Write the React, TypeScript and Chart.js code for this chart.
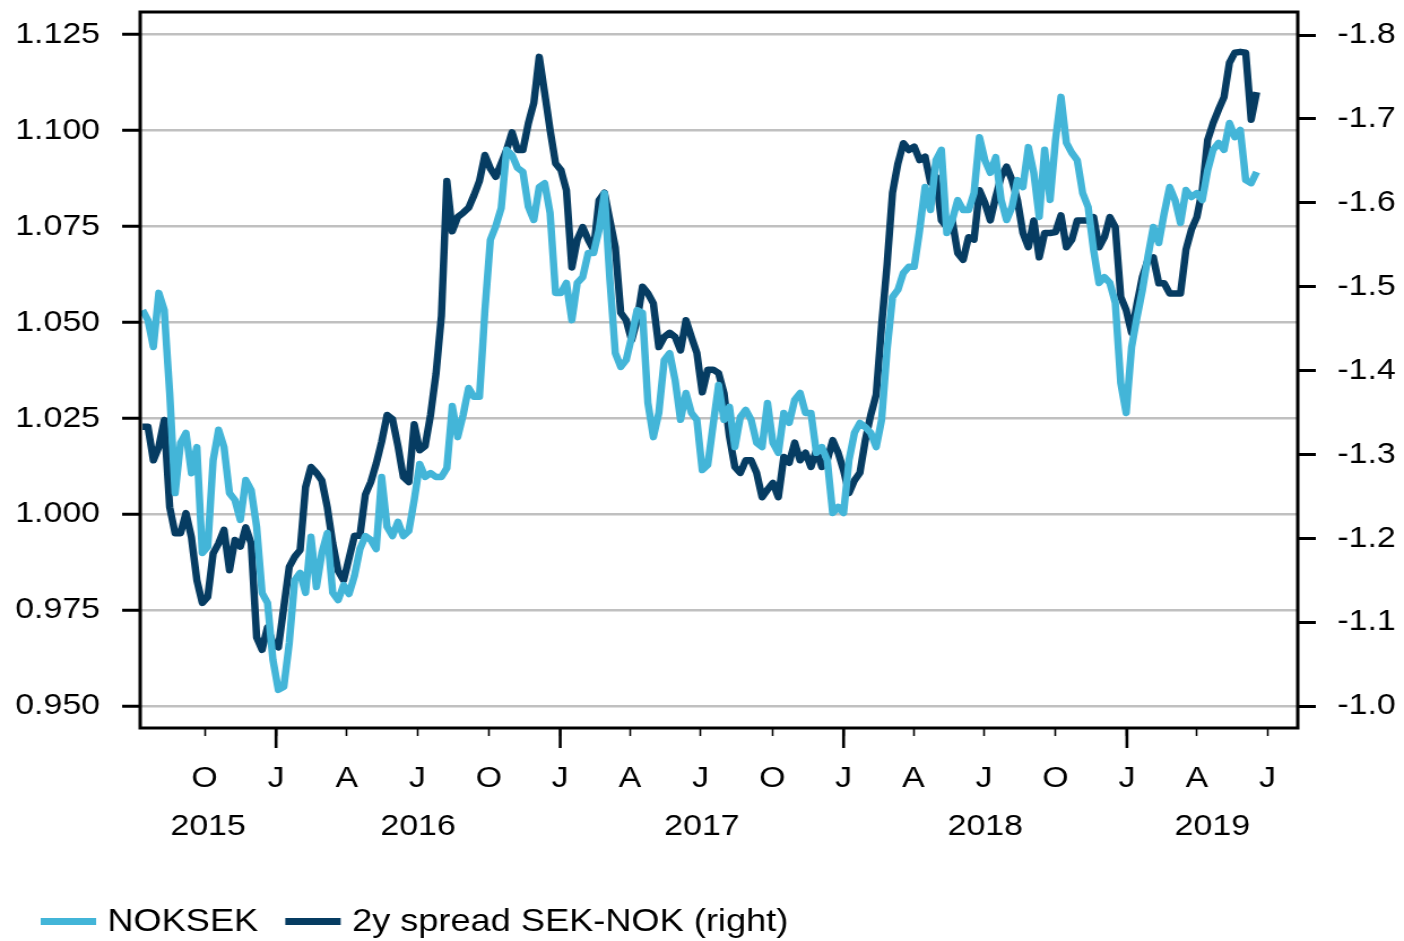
import React, { useEffect, useRef } from 'react';
import { Chart, registerables } from 'chart.js';

Chart.register(...registerables);

// ---------- data ----------
const START_DATE = '2015-07-13'; // first weekly observation
const X_MIN_DATE = '2015-07-10';
const X_MAX_DATE = '2019-08-09';

const NOKSEK = [
  1.0532, 1.0506, 1.0436, 1.0577, 1.0532, 1.0316, 1.0055, 1.0186, 1.0212, 1.0107,
  1.0175, 0.9899, 0.9915, 1.0141, 1.0220, 1.0175, 1.0055, 1.0037, 0.9985, 1.0089,
  1.0063, 0.9967, 0.9795, 0.9769, 0.9620, 0.9542, 0.9550, 0.9664, 0.9828, 0.9847,
  0.9795, 0.9941, 0.9810, 0.9899, 0.9951, 0.9795, 0.9776, 0.9815, 0.9792, 0.9839,
  0.9909, 0.9943, 0.9933, 0.9909, 1.0097, 0.9967, 0.9943, 0.9980, 0.9943, 0.9956,
  1.0037, 1.0131, 1.0097, 1.0107, 1.0097, 1.0097, 1.0120, 1.0282, 1.0201, 1.0259,
  1.0329, 1.0306, 1.0306, 1.0530, 1.0715, 1.0751, 1.0798, 1.0950, 1.0936, 1.0903,
  1.0892, 1.0801, 1.0767, 1.0853, 1.0863, 1.0785, 1.0577, 1.0577, 1.0603, 1.0506,
  1.0603, 1.0618, 1.0681, 1.0681, 1.0741, 1.0837, 1.0611, 1.0420, 1.0384, 1.0402,
  1.0462, 1.0532, 1.0525, 1.0290, 1.0201, 1.0264, 1.0402, 1.0420, 1.0350, 1.0246,
  1.0316, 1.0264, 1.0246, 1.0115, 1.0128, 1.0233, 1.0337, 1.0246, 1.0280, 1.0175,
  1.0253, 1.0272, 1.0246, 1.0186, 1.0175, 1.0290, 1.0186, 1.0160, 1.0264, 1.0238,
  1.0298, 1.0316, 1.0264, 1.0264, 1.0160, 1.0175, 1.0141, 1.0003, 1.0019, 1.0003,
  1.0141, 1.0212, 1.0238, 1.0227, 1.0212, 1.0175, 1.0246, 1.0428, 1.0566, 1.0585,
  1.0629, 1.0645, 1.0645, 1.0741, 1.0853, 1.0793, 1.0923, 1.0950, 1.0733, 1.0767,
  1.0819, 1.0793, 1.0793, 1.0837, 1.0983, 1.0923, 1.0890, 1.0931, 1.0819, 1.0767,
  1.0801, 1.0871, 1.0853, 1.0957, 1.0890, 1.0775, 1.0950, 1.0819, 1.0976, 1.1088,
  1.0968, 1.0942, 1.0923, 1.0837, 1.0801, 1.0689, 1.0603, 1.0618, 1.0603, 1.0551,
  1.0342, 1.0264, 1.0436, 1.0514, 1.0585, 1.0671, 1.0749, 1.0707, 1.0785, 1.0853,
  1.0819, 1.0759, 1.0845, 1.0827, 1.0837, 1.0819, 1.0897, 1.0950, 1.0968, 1.0950,
  1.1020, 1.0983, 1.1002, 1.0871, 1.0863, 1.0892,
];

const SPREAD_2Y = [
  -1.333, -1.333, -1.293, -1.309, -1.341, -1.237, -1.206, -1.206, -1.230, -1.201,
  -1.150, -1.123, -1.130, -1.182, -1.194, -1.210, -1.162, -1.198, -1.190, -1.213,
  -1.194, -1.082, -1.067, -1.094, -1.075, -1.070, -1.118, -1.166, -1.178, -1.186,
  -1.261, -1.285, -1.278, -1.269, -1.237, -1.194, -1.161, -1.150, -1.176, -1.203,
  -1.203, -1.252, -1.267, -1.289, -1.315, -1.347, -1.342, -1.310, -1.273, -1.267,
  -1.336, -1.305, -1.310, -1.347, -1.396, -1.465, -1.626, -1.566, -1.583, -1.588,
  -1.594, -1.609, -1.626, -1.657, -1.641, -1.631, -1.647, -1.663, -1.684, -1.663,
  -1.663, -1.695, -1.719, -1.774, -1.731, -1.687, -1.647, -1.639, -1.615, -1.523,
  -1.556, -1.571, -1.556, -1.544, -1.603, -1.612, -1.579, -1.547, -1.469, -1.460,
  -1.436, -1.460, -1.500, -1.492, -1.480, -1.428, -1.440, -1.445, -1.440, -1.424,
  -1.460, -1.440, -1.421, -1.374, -1.401, -1.401, -1.397, -1.373, -1.321, -1.285,
  -1.278, -1.293, -1.293, -1.278, -1.249, -1.258, -1.266, -1.249, -1.297, -1.290,
  -1.314, -1.293, -1.302, -1.285, -1.305, -1.285, -1.293, -1.317, -1.302, -1.281,
  -1.254, -1.269, -1.278, -1.317, -1.347, -1.371, -1.454, -1.526, -1.612, -1.647,
  -1.671, -1.663, -1.667, -1.651, -1.655, -1.624, -1.631, -1.579, -1.571, -1.579,
  -1.540, -1.532, -1.559, -1.556, -1.615, -1.600, -1.579, -1.607, -1.631, -1.643,
  -1.627, -1.603, -1.564, -1.547, -1.579, -1.535, -1.564, -1.564, -1.565, -1.585,
  -1.547, -1.556, -1.579, -1.579, -1.579, -1.583, -1.547, -1.559, -1.583, -1.571,
  -1.488, -1.472, -1.445, -1.480, -1.512, -1.532, -1.535, -1.504, -1.504, -1.492,
  -1.492, -1.492, -1.544, -1.568, -1.583, -1.615, -1.675, -1.695, -1.711, -1.726,
  -1.767, -1.779, -1.780, -1.779, -1.699, -1.732,
];

const QUARTER_TICKS = [
  '2015-10-01', '2016-01-01', '2016-04-01', '2016-07-01', '2016-10-01',
  '2017-01-01', '2017-04-01', '2017-07-01', '2017-10-01',
  '2018-01-01', '2018-04-01', '2018-07-01', '2018-10-01',
  '2019-01-01', '2019-04-01', '2019-07-01',
];
const QUARTER_LABELS = ['O', 'J', 'A', 'J', 'O', 'J', 'A', 'J', 'O', 'J', 'A', 'J', 'O', 'J', 'A', 'J'];
const YEAR_STARTS = ['2016-01-01', '2017-01-01', '2018-01-01', '2019-01-01'];
const YEAR_LABELS = ['2015', '2016', '2017', '2018', '2019'];
const LEFT_TICKS = [0.95, 0.975, 1.0, 1.025, 1.05, 1.075, 1.1, 1.125];
const RIGHT_TICKS = [-1.0, -1.1, -1.2, -1.3, -1.4, -1.5, -1.6, -1.7, -1.8];
const LEFT_RANGE = [0.94426, 1.13093];
const RIGHT_RANGE = [-1.8275, -0.9738];

const SERIES_LABELS = ['NOKSEK', '2y spread SEK-NOK (right)'];
const LIGHT = '#43b5d8';
const DARK = '#063c62';

// ---------- rendering ----------
const FONT = "'Liberation Sans', Arial, Helvetica, sans-serif";
const CANVAS_W = 1242;
const CANVAS_H = 941;
const DAY = 86400000;
const ts = (s: string) => Date.parse(s + 'T00:00:00Z');

export default function App() {
  const ref = useRef<HTMLCanvasElement>(null);

  useEffect(() => {
    const canvas = ref.current;
    if (!canvas) return;
    const start = ts(START_DATE);
    const light = NOKSEK.map((v, i) => ({ x: start + i * 7 * DAY, y: v }));
    const dark = SPREAD_2Y.map((v, i) => ({ x: start + i * 7 * DAY, y: v }));

    const zeroPad = (s: any) => {
      s.paddingTop = 0;
      s.paddingBottom = 0;
      s.paddingLeft = 0;
      s.paddingRight = 0;
    };

    const decor = {
      id: 'decor',
      afterDraw(chart: any) {
        const { ctx, chartArea: a, scales } = chart;
        const x = scales.x;
        ctx.save();
        // frame
        ctx.strokeStyle = '#000';
        ctx.lineWidth = 3;
        ctx.strokeRect(a.left, a.top, a.right - a.left, a.bottom - a.top);
        // longer year ticks
        ctx.lineWidth = 2.6;
        YEAR_STARTS.forEach((d) => {
          const px = x.getPixelForValue(ts(d));
          ctx.beginPath();
          ctx.moveTo(px, a.bottom);
          ctx.lineTo(px, a.bottom + 20);
          ctx.stroke();
        });
        // year labels, centred within each year's visible span
        const bounds = [x.min, ...YEAR_STARTS.map(ts), x.max];
        ctx.font = `30px ${FONT}`;
        ctx.fillStyle = '#000';
        ctx.textAlign = 'center';
        ctx.textBaseline = 'middle';
        YEAR_LABELS.forEach((lab, i) => {
          const c = (x.getPixelForValue(bounds[i]) + x.getPixelForValue(bounds[i + 1])) / 2;
          ctx.fillText(lab, c, a.bottom + 99);
        });
        // legend
        ctx.font = `32px ${FONT}`;
        ctx.textAlign = 'left';
        let lx = 36;
        const ly = 922;
        chart.data.datasets.forEach((ds: any) => {
          ctx.fillStyle = ds.borderColor;
          ctx.fillRect(lx, ly - 4, 49, 7);
          lx += 59;
          ctx.fillStyle = '#000';
          ctx.fillText(ds.label, lx, ly);
          lx += ctx.measureText(ds.label).width + 24;
        });
        ctx.restore();
      },
    };

    const tickFont = { size: 30, family: FONT };

    const chart = new Chart(canvas, {
      type: 'line',
      data: {
        datasets: [
          {
            label: SERIES_LABELS[0],
            data: light,
            yAxisID: 'y',
            borderColor: LIGHT,
            backgroundColor: LIGHT,
            borderWidth: 6.5,
            pointRadius: 0,
            tension: 0,
            borderJoinStyle: 'round',
          },
          {
            label: SERIES_LABELS[1],
            data: dark,
            yAxisID: 'y1',
            borderColor: DARK,
            backgroundColor: DARK,
            borderWidth: 6.5,
            pointRadius: 0,
            tension: 0,
            borderJoinStyle: 'round',
          },
        ],
      },
      options: {
        responsive: false,
        animation: false,
        devicePixelRatio: 1,
        events: [],
        layout: { padding: { top: 12, left: 0, right: 0, bottom: 0 } },
        plugins: {
          legend: { display: false },
          tooltip: { enabled: false },
          title: { display: false },
        },
        scales: {
          x: {
            type: 'linear',
            min: ts(X_MIN_DATE),
            max: ts(X_MAX_DATE),
            afterBuildTicks: (s: any) => {
              s.ticks = QUARTER_TICKS.map((d) => ({ value: ts(d) }));
            },
            afterFit: (s: any) => {
              s.height = 213;
              zeroPad(s);
            },
            ticks: {
              autoSkip: false,
              maxRotation: 0,
              minRotation: 0,
              padding: 25,
              color: '#000',
              font: tickFont,
              callback: (_v: any, i: number) => QUARTER_LABELS[i],
            },
            grid: {
              display: true,
              drawOnChartArea: false,
              drawTicks: true,
              tickLength: 8,
              tickWidth: 1.6,
              tickColor: '#000',
            },
            border: { display: false },
          },
          y: {
            type: 'linear',
            position: 'left',
            min: LEFT_RANGE[0],
            max: LEFT_RANGE[1],
            afterBuildTicks: (s: any) => {
              s.ticks = LEFT_TICKS.map((v) => ({ value: v }));
            },
            afterFit: (s: any) => {
              s.width = 124;
              zeroPad(s);
            },
            ticks: {
              padding: 19.5,
              color: '#000',
              font: tickFont,
              callback: (v: any) => Number(v).toFixed(3),
            },
            grid: {
              color: '#c0c0c0',
              lineWidth: 2.5,
              drawTicks: true,
              tickLength: 16,
              tickWidth: 3,
              tickColor: '#000',
            },
            border: { display: false },
          },
          y1: {
            type: 'linear',
            position: 'right',
            reverse: true,
            min: RIGHT_RANGE[0],
            max: RIGHT_RANGE[1],
            afterBuildTicks: (s: any) => {
              s.ticks = RIGHT_TICKS.map((v) => ({ value: v }));
            },
            afterFit: (s: any) => {
              s.width = 94;
              zeroPad(s);
            },
            ticks: {
              padding: 19,
              color: '#000',
              font: tickFont,
              callback: (v: any) => Number(v).toFixed(1),
            },
            grid: {
              drawOnChartArea: false,
              drawTicks: true,
              tickLength: 16,
              tickWidth: 3,
              tickColor: '#000',
            },
            border: { display: false },
          },
        },
      },
      plugins: [decor],
    } as any);

    return () => chart.destroy();
  }, []);

  return (
    <div style={{ position: 'absolute', left: 0, top: 0, width: 1404, height: 941, background: '#fff' }}>
      <canvas
        ref={ref}
        width={CANVAS_W}
        height={CANVAS_H}
        style={{ width: '1404px', height: '941px', display: 'block' }}
      />
    </div>
  );
}
